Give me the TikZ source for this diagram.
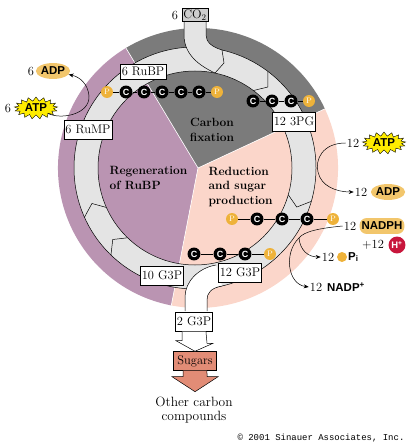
\documentclass[tikz,border=0pt]{standalone}
\usepackage{fontspec}
\newfontfamily\chemsans{Liberation Sans}
\newfontfamily\creditmono{Liberation Mono}
\usetikzlibrary{arrows.meta,shapes.geometric,shapes.symbols}

\definecolor{fixgrey}{RGB}{123,123,123}
\definecolor{regenmauve}{RGB}{186,148,178}
\definecolor{reducpink}{RGB}{251,214,202}
\definecolor{cyclegrey}{RGB}{228,228,228}
\definecolor{co2grey}{RGB}{205,205,205}
\definecolor{phosgold}{RGB}{238,178,58}
\definecolor{atpyellow}{RGB}{255,236,0}
\definecolor{adpgold}{RGB}{242,198,108}
\definecolor{sugarsalmon}{RGB}{226,140,118}
\definecolor{protonred}{RGB}{200,22,60}

\tikzset{
  box/.style={draw, fill=white, line width=0.5pt, inner xsep=1.5pt, inner ysep=4.5pt,
    text height=8.5pt, text depth=1.5pt, font=\fontsize{12.5}{14}\selectfont},
  catom/.style={circle, fill=black, inner sep=0pt, minimum size=13pt, text=white,
    font=\chemsans\bfseries\fontsize{9}{9}\selectfont},
  patom/.style={circle, fill=phosgold, inner sep=0pt, minimum size=12pt, text=white,
    font=\fontsize{8}{8}\selectfont},
  stage/.style={align=left, font=\bfseries\fontsize{12}{15}\selectfont},
  num/.style={inner sep=1pt, font=\fontsize{12.5}{14}\selectfont},
  chem/.style={inner sep=1pt, font=\chemsans\bfseries\fontsize{11.5}{12}\selectfont},
  atp/.style={chem, starburst, starburst points=17, starburst point height=4pt,
    random starburst=0, draw, fill=atpyellow, line width=0.4pt, inner xsep=1.5pt, inner ysep=1pt},
  adp/.style={chem, ellipse, fill=adpgold, inner sep=0pt, minimum width=30pt, minimum height=16pt},
  nadph/.style={chem, fill=adpgold, rounded corners=7pt, inner xsep=2pt, minimum height=16pt},
  proton/.style={circle, fill=protonred, text=white, inner sep=0pt, minimum size=17pt,
    font=\chemsans\bfseries\fontsize{9.5}{9.5}\selectfont},
  pidot/.style={circle, fill=phosgold, inner sep=0pt, minimum size=10pt},
  feed/.style={-{Stealth[length=5pt,width=4pt]}, line width=0.5pt},
  chev/.style={line width=0.5pt},
}

\begin{document}
\begin{tikzpicture}[x=1bp,y=-1bp]
  \useasboundingbox (0,0) rectangle (412,448);
  \coordinate (disk) at (198,168);
  \coordinate (ring) at (195,168);

  % the three stages
  \fill[fixgrey] (disk) -- +(-121:140) arc[start angle=-121, end angle=-25, radius=140] -- cycle;
  \fill[regenmauve] (disk) -- +(101:140) arc[start angle=101, end angle=239, radius=140] -- cycle;
  \fill[reducpink] (disk) -- +(-25:140) arc[start angle=-25, end angle=101, radius=140] -- cycle;
  \draw[white, line width=0.6pt] (disk) -- +(-121:140) (disk) -- +(-25:140) (disk) -- +(101:140);

  % the cycle band
  \fill[cyclegrey, even odd rule] (ring) circle[radius=121] (ring) circle[radius=97];
  \draw[line width=0.5pt] (ring) circle[radius=121] (ring) circle[radius=97];

  % CO2 coming in
  \fill[cyclegrey] (184,22) -- (184,35) .. controls (184,55) and (200,66) .. (215,73)
    -- (222,50) .. controls (212,47) and (206,42) .. (206,35) -- (206,22) -- cycle;
  \draw[chev] (184,22) -- (184,35) .. controls (184,55) and (200,66) .. (215,73);
  \draw[chev] (206,22) -- (206,35) .. controls (206,42) and (212,47) .. (222,50) -- (224,63) -- (215,73);

  % G3P going out
  \fill[white] (185,311) -- (185,297) .. controls (185,282) and (198,268) .. (216,265)
    -- (222,286) .. controls (211,288) and (207,293) .. (207,300) -- (207,311) -- cycle;
  \draw[chev] (185,311) -- (185,297) .. controls (185,282) and (198,268) .. (216,265);
  \draw[chev] (207,311) -- (207,300) .. controls (207,293) and (211,288) .. (222,286);

  \begin{scope}[chev]
    \draw ([shift={(-53:97)}]ring) -- ([shift={(-48:109)}]ring) -- ([shift={(-53:121)}]ring);
    \draw ([shift={(16:97)}]ring) -- ([shift={(21:109)}]ring) -- ([shift={(16:121)}]ring);
    \draw ([shift={(134:97)}]ring) -- ([shift={(139:109)}]ring) -- ([shift={(134:121)}]ring);
    \draw ([shift={(156:97)}]ring) -- ([shift={(161:109)}]ring) -- ([shift={(156:121)}]ring);
  \end{scope}

  % carbon skeletons
  \draw
    (107,92) node[patom] (r0){P}
    (126,92) node[catom] (r1){C}
    (144,92) node[catom] (r2){C}
    (162,92) node[catom] (r3){C}
    (181,92) node[catom] (r4){C}
    (199,92) node[catom] (r5){C}
    (217,92) node[patom] (r6){P}
    (253,101) node[catom] (g1){C}
    (272,101) node[catom] (g2){C}
    (291,101) node[catom] (g3){C}
    (309,101) node[patom] (g4){P}
    (232,219) node[patom] (d0){P}
    (257,219) node[catom] (d1){C}
    (282,219) node[catom] (d2){C}
    (307,219) node[catom] (d3){C}
    (333,219) node[patom] (d4){P}
    (194,254) node[catom] (t1){C}
    (220,254) node[catom] (t2){C}
    (245,254) node[catom] (t3){C}
    (270,254) node[patom] (t4){P};
  \begin{scope}[-]
    \draw (r0) to (r1);
    \draw (r1) to (r2);
    \draw (r2) to (r3);
    \draw (r3) to (r4);
    \draw (r4) to (r5);
    \draw (r5) to (r6);
    \draw (g1) to (g2);
    \draw (g2) to (g3);
    \draw (g3) to (g4);
    \draw (d0) to (d1);
    \draw (d1) to (d2);
    \draw (d2) to (d3);
    \draw (d3) to (d4);
    \draw (t1) to (t2);
    \draw (t2) to (t3);
    \draw (t3) to (t4);
  \end{scope}

  % boxes on the cycle
  \node[num] (nco2) at (175,15) {6};
  \node[box, fill=co2grey, inner ysep=1.5pt] (co2) at (195,15) {CO\textsubscript{2}};
  \node[box, inner ysep=2.5pt] (rubp) at (143,72) {6 RuBP};
  \node[box] (rump) at (88,130) {6 RuMP};
  \node[box] (pga) at (294,122) {12 3PG};
  \node[box] (gten) at (162,276) {10 G3P};
  \node[box] (gtwelve) at (240,273) {12 G3P};
  \node[box] (gtwo) at (194,322) {2 G3P};
  \node[box, fill=sugarsalmon, inner xsep=4pt] (sugar) at (195,361) {Sugars};

  \node[stage, align=center] (fix) at (212,130) {Carbon\\fixation};
  \node[stage, anchor=west] (regen) at (106,178) {Regeneration\\of RuBP};
  \node[stage, anchor=west] (reduc) at (205,187) {Reduction\\and sugar\\production};

  % out to sugars
  \draw[fill=white, line width=0.5pt] ([xshift=-12]gtwo.south) -- ++(0,9) -- ++(-6,0)
    -- (sugar.north) -- ++(18,-8) -- ++(-6,0) -- ([xshift=12]gtwo.south);
  \draw[fill=sugarsalmon, line width=0.5pt] ([xshift=-12]sugar.south) -- ++(0,6) -- ++(-11,0)
    -- ++(23,15) -- ++(23,-15) -- ++(-11,0) -- ([xshift=12]sugar.south);
  \node[align=center, font=\fontsize{13.5}{14.5}\selectfont] (other) at (194,410) {Other carbon\\compounds};

  % energy for regeneration
  \node[num] (nadpl) at (31,71) {6};
  \node[adp] (adpl) at (53,71) {ADP};
  \node[num] (natpl) at (8,108) {6};
  \node[atp] (atpl) at (36,108) {ATP};
  \draw[feed] (atpl) .. controls (62,120) and (90,114) .. (89,96)
    .. controls (88,84) and (80,77) .. (adpl);

  % energy for reduction
  \node[num] (natpr) at (353,143) {12};
  \node[atp] (atpr) at (384,143) {ATP};
  \node[num] (nadpr) at (361,192) {12};
  \node[adp] (adpr) at (388,192) {ADP};
  \draw[feed] (natpr.west) .. controls (322,143) and (315,160) .. (318,172)
    .. controls (321,186) and (336,192) .. (nadpr.west);

  \node[num] (nnadph) at (350,226) {12};
  \node[nadph] (nadph) at (382,226) {NADPH};
  \node[num] (nh) at (373,245) {+12};
  \node[proton] (hp) at (397,245) {H\textsuperscript{+}};
  \node[num] (npi) at (328,257) {12};
  \node[pidot] (pidot) at (342,257) {};
  \node[chem, anchor=west] (pi) at (347,257) {P\textsubscript{i}};
  \node[num] (nnadp) at (316,287) {12};
  \node[chem, anchor=west] (nadp) at (326,287) {NADP\textsuperscript{+}};
  \coordinate (split) at (299,238);
  \draw[chev] (nnadph.west) .. controls (322,228) and (304,231) .. (split);
  \draw[feed] (split) .. controls (300,250) and (308,257) .. (npi.west);
  \draw[feed] (split) .. controls (284,252) and (287,284) .. (nnadp.west);

  \node[font=\creditmono\fontsize{9}{10}\selectfont] (credit) at (321,438) {© 2001 Sinauer Associates, Inc.};
\end{tikzpicture}
\end{document}
